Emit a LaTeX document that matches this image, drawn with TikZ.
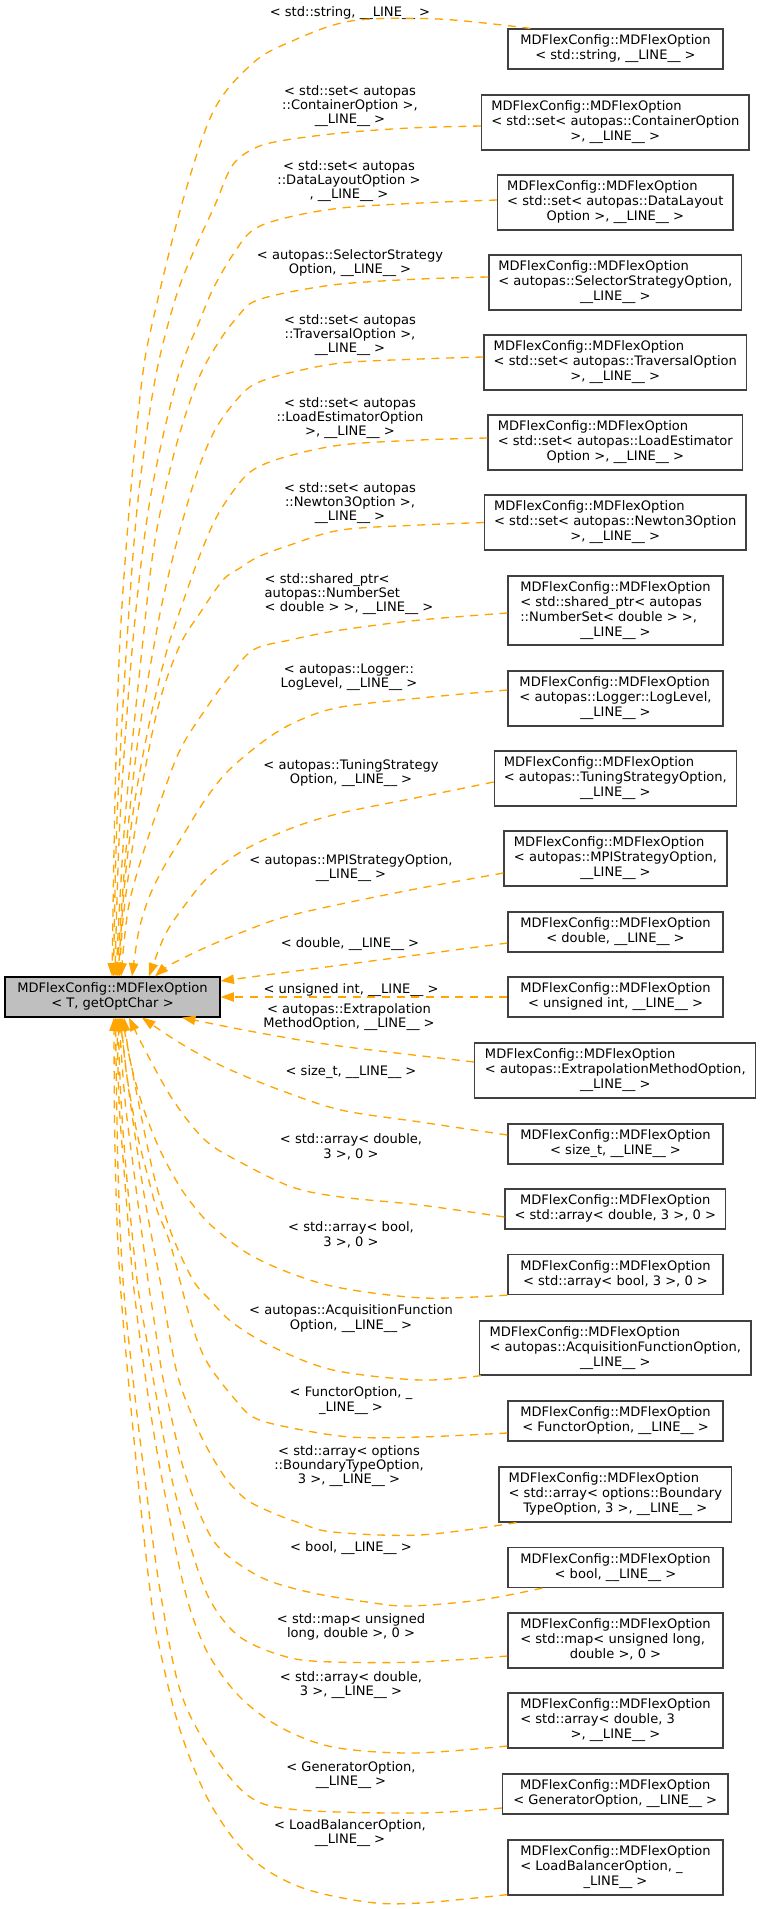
\documentclass[tikz,border=0pt]{standalone}
\usepackage{fontspec}
\setmainfont{DejaVu Sans}
\usetikzlibrary{arrows.meta,calc}
\definecolor{edgeorange}{HTML}{FFA500}
\definecolor{boxline}{HTML}{404040}
\definecolor{basefill}{HTML}{BFBFBF}
% text helpers
\newcommand{\MDF}{MDFlexConfig::MDFlexOption}
\newcommand{\LN}{\_\_LINE\_\_}
\newcommand{\onel}[1]{\begin{tabular}{@{}c@{}}#1\end{tabular}}
\newcommand{\twol}[2]{\begin{tabular}{@{}c@{}}#1\\#2\end{tabular}}
\newcommand{\threec}[3]{\begin{tabular}{@{}c@{}}#1\\#2\\#3\end{tabular}}
\newcommand{\threel}[3]{\begin{tabular}{@{}l@{}}#1\\#2\\\multicolumn{1}{@{}c@{}}{#3}\end{tabular}}
\newcommand{\fourl}[4]{\begin{tabular}{@{}l@{}}#1\\#2\\#3\\\multicolumn{1}{@{}c@{}}{#4}\end{tabular}}
\begin{document}
\begin{tikzpicture}[x=0.75pt,y=-0.75pt,
  cls/.style={draw=boxline, line width=0.9pt, fill=white, inner sep=0pt,
    font=\fontsize{9.8}{11.25}\selectfont},
  base/.style={cls, draw=black, fill=basefill},
  wh/.style 2 args={minimum width=#1*0.75pt, minimum height=#2*0.75pt},
  lbl/.style={inner sep=0pt, font=\fontsize{9.8}{10.7}\selectfont},
  inh/.style={draw=edgeorange, line width=1pt, dash pattern=on 6pt off 5pt,
    -{Triangle[length=10pt,width=7pt]}},
  sm/.style={smooth, tension=0.55}
]
\useasboundingbox (0,0) rectangle (760,1909);

% ---------- classes ----------
\node[base, wh={215}{40}] (main) at (112.5,997) {\twol{\MDF}{< T, getOptChar >}};

\node[cls, wh={215}{40}]   (b1)  at (615.5,49)    {\twol{\MDF}{< std::string, \LN{} >}};
\node[cls, wh={267.4}{55}] (b2)  at (615.3,122.5) {\threel{\MDF}{< std::set< autopas::ContainerOption}{>, \LN{} >}};
\node[cls, wh={235.4}{55}] (b3)  at (615.3,202.5) {\threel{\MDF}{< std::set< autopas::DataLayout}{Option >, \LN{} >}};
\node[cls, wh={252.7}{55}] (b4)  at (615.3,282.5) {\threel{\MDF}{< autopas::SelectorStrategyOption,}{\LN{} >}};
\node[cls, wh={262.6}{55}] (b5)  at (615.3,362.5) {\threel{\MDF}{< std::set< autopas::TraversalOption}{>, \LN{} >}};
\node[cls, wh={254.7}{55}] (b6)  at (615.3,442.5) {\threel{\MDF}{< std::set< autopas::LoadEstimator}{Option >, \LN{} >}};
\node[cls, wh={261.5}{55}] (b7)  at (615.3,522.5) {\threel{\MDF}{< std::set< autopas::Newton3Option}{>, \LN{} >}};
\node[cls, wh={215}{69}]   (b8)  at (615.5,610.5) {\fourl{\MDF}{< std::shared\_ptr< autopas}{::NumberSet< double > >,}{\LN{} >}};
\node[cls, wh={215}{55}]   (b9)  at (615.5,698.5) {\threel{\MDF}{< autopas::Logger::LogLevel,}{\LN{} >}};
\node[cls, wh={242}{55}]   (b10) at (615.3,778.5) {\threel{\MDF}{< autopas::TuningStrategyOption,}{\LN{} >}};
\node[cls, wh={223}{55}]   (b11) at (615.5,858.5) {\threel{\MDF}{< autopas::MPIStrategyOption,}{\LN{} >}};
\node[cls, wh={215}{40}]   (b12) at (615.5,932)   {\twol{\MDF}{< double, \LN{} >}};
\node[cls, wh={215}{40}]   (b13) at (615.5,997)   {\twol{\MDF}{< unsigned int, \LN{} >}};
\node[cls, wh={281}{55}]   (b14) at (615.3,1070.5){\threel{\MDF}{< autopas::ExtrapolationMethodOption,}{\LN{} >}};
\node[cls, wh={215}{40}]   (b15) at (615.5,1144)  {\twol{\MDF}{< size\_t, \LN{} >}};
\node[cls, wh={220.7}{40}] (b16) at (615.3,1209)  {\twol{\MDF}{< std::array< double, 3 >, 0 >}};
\node[cls, wh={215}{40}]   (b17) at (615.5,1274.5){\twol{\MDF}{< std::array< bool, 3 >, 0 >}};
\node[cls, wh={271.4}{54}] (b18) at (615.3,1348)  {\threel{\MDF}{< autopas::AcquisitionFunctionOption,}{\LN{} >}};
\node[cls, wh={215}{40}]   (b19) at (615.5,1421)  {\twol{\MDF}{< FunctorOption, \LN{} >}};
\node[cls, wh={232.6}{55}] (b20) at (615.3,1494.5){\threel{\MDF}{< std::array< options::Boundary}{TypeOption, 3 >, \LN{} >}};
\node[cls, wh={215}{40}]   (b21) at (615.5,1567.5){\twol{\MDF}{< bool, \LN{} >}};
\node[cls, wh={215}{55}]   (b22) at (615.5,1640.5){\threel{\MDF}{< std::map< unsigned long,}{double >, 0 >}};
\node[cls, wh={215}{55}]   (b23) at (615.5,1720.5){\threel{\MDF}{< std::array< double, 3}{>, \LN{} >}};
\node[cls, wh={225.6}{40}] (b24) at (615.2,1794)  {\twol{\MDF}{< GeneratorOption, \LN{} >}};
\node[cls, wh={215}{55}]   (b25) at (615.5,1867.5){\threel{\MDF}{< LoadBalancerOption, \_}{\_LINE\_\_ >}};

% ---------- edge labels ----------
\node[lbl] (l1)  at (350,13.5)   {\onel{< std::string, \LN{} >}};
\node[lbl] (l2)  at (350,106.5)  {\threec{< std::set< autopas}{::ContainerOption >,}{\LN{} >}};
\node[lbl] (l3)  at (349,181.5)  {\threec{< std::set< autopas}{::DataLayoutOption >}{, \LN{} >}};
\node[lbl] (l4)  at (350,263.5)  {\twol{< autopas::SelectorStrategy}{Option, \LN{} >}};
\node[lbl] (l5)  at (350,335.5)  {\threec{< std::set< autopas}{::TraversalOption >,}{\LN{} >}};
\node[lbl] (l6)  at (350,418.5)  {\threec{< std::set< autopas}{::LoadEstimatorOption}{>, \LN{} >}};
\node[lbl] (l7)  at (350,503.5)  {\threec{< std::set< autopas}{::Newton3Option >,}{\LN{} >}};
\node[lbl] (l8)  at (349,594.5)  {\threel{< std::shared\_ptr<}{autopas::NumberSet}{< double > >, \LN{} >}};
\node[lbl] (l9)  at (349,677.5)  {\twol{< autopas::Logger::}{LogLevel, \LN{} >}};
\node[lbl] (l10) at (351,774)    {\twol{< autopas::TuningStrategy}{Option, \LN{} >}};
\node[lbl] (l11) at (351,869)    {\twol{< autopas::MPIStrategyOption,}{\LN{} >}};
\node[lbl] (l12) at (350,944.5)  {\onel{< double, \LN{} >}};
\node[lbl] (l13) at (351,990.5)  {\onel{< unsigned int, \LN{} >}};
\node[lbl] (l14) at (349,1018)   {\twol{< autopas::Extrapolation}{MethodOption, \LN{} >}};
\node[lbl] (l15) at (351,1072.5) {\onel{< size\_t, \LN{} >}};
\node[lbl] (l16) at (351,1148)   {\twol{< std::array< double,}{3 >, 0 >}};
\node[lbl] (l17) at (351,1236)   {\twol{< std::array< bool,}{3 >, 0 >}};
\node[lbl] (l18) at (351,1319)   {\twol{< autopas::AcquisitionFunction}{Option, \LN{} >}};
\node[lbl] (l19) at (351,1401)   {\twol{< FunctorOption, \_}{\_LINE\_\_ >}};
\node[lbl] (l20) at (349,1466.5) {\threec{< std::array< options}{::BoundaryTypeOption,}{3 >, \LN{} >}};
\node[lbl] (l21) at (351,1549)   {\onel{< bool, \LN{} >}};
\node[lbl] (l22) at (351,1627.5) {\twol{< std::map< unsigned}{long, double >, 0 >}};
\node[lbl] (l23) at (351,1685.5) {\twol{< std::array< double,}{3 >, \LN{} >}};
\node[lbl] (l24) at (351,1775.5) {\twol{< GeneratorOption,}{\LN{} >}};
\node[lbl] (l25) at (350,1833.5) {\twol{< LoadBalancerOption,}{\LN{} >}};

% ---------- attachment points on the boxes ----------
\coordinate (s1)  at ($(b1.north west)+(23,0)$);
\coordinate (s2)  at ($(b2.west)+(0,3.5)$);
\coordinate (s3)  at ($(b3.west)+(0,-2.5)$);
\coordinate (s4)  at ($(b4.west)+(0,-5.5)$);
\coordinate (s5)  at ($(b5.west)+(0,-5.5)$);
\coordinate (s6)  at ($(b6.west)+(0,-4.5)$);
\coordinate (s7)  at (b7.west);
\coordinate (s8)  at ($(b8.west)+(0,2.5)$);
\coordinate (s9)  at ($(b9.west)+(0,-8.5)$);
\coordinate (s10) at ($(b10.west)+(0,3.5)$);
\coordinate (s11) at ($(b11.west)+(0,14.5)$);
\coordinate (s12) at ($(b12.west)+(0,11)$);
\coordinate (s14) at ($(b14.west)+(0,-8.5)$);
\coordinate (s15) at ($(b15.west)+(0,-9)$);
\coordinate (s16) at ($(b16.west)+(0,8)$);
\coordinate (s17) at (b17.south west);
\coordinate (s18) at ($(b18.south west)+(2,0)$);
\coordinate (s19) at ($(b19.west)+(0,12)$);
\coordinate (s20) at ($(b20.south west)+(18,0)$);
\coordinate (s21) at ($(b21.south west)+(35,0)$);
\coordinate (s22) at ($(b22.west)+(0,15.5)$);
\coordinate (s23) at ($(b23.west)+(0,25.5)$);
\coordinate (s24) at ($(b24.west)+(0,14)$);
\coordinate (s25) at ($(b25.south west)+(0,-1)$);

\coordinate (t1)  at ($(main.north)+(-0.5,0)$);
\coordinate (t2)  at ($(main.north)+(1,0)$);
\coordinate (t3)  at ($(main.north)+(2.5,0)$);
\coordinate (t4)  at ($(main.north)+(3.5,0)$);
\coordinate (t5)  at ($(main.north)+(4.5,0)$);
\coordinate (t6)  at ($(main.north)+(5.5,0)$);
\coordinate (t7)  at ($(main.north)+(7,0)$);
\coordinate (t8)  at ($(main.north)+(8.5,0)$);
\coordinate (t9)  at ($(main.north)+(19.5,0)$);
\coordinate (t10) at ($(main.north)+(36.5,0)$);
\coordinate (t11) at ($(main.north)+(42.5,0)$);
\coordinate (t12) at ($(main.east)+(0,-16)$);
\coordinate (t14) at ($(main.south)+(69.5,0)$);
\coordinate (t15) at ($(main.south)+(29.5,0)$);
\coordinate (t16) at ($(main.south)+(16.5,0)$);
\coordinate (t17) at ($(main.south)+(11.5,0)$);
\coordinate (t18) at ($(main.south)+(9.5,0)$);
\coordinate (t19) at ($(main.south)+(8.5,0)$);
\coordinate (t20) at ($(main.south)+(7.5,0)$);
\coordinate (t21) at ($(main.south)+(6.5,0)$);
\coordinate (t22) at ($(main.south)+(5.5,0)$);
\coordinate (t23) at ($(main.south)+(4.5,0)$);
\coordinate (t24) at ($(main.south)+(3,0)$);
\coordinate (t25) at ($(main.south)+(1.5,0)$);

% ---------- template instantiation edges (upper fan) ----------
\draw[inh] plot[sm] coordinates {(s1) (438,19) (351,21) (290,42) (253,63) (214,110) (183,200) (153,320) (142,380) (130,500) (120,640) (115,800) (t1)};
\draw[inh] plot[sm] coordinates {(s2) (410,128) (341,133) (280,141) (253,149) (232,166) (215,205) (193,253) (175,300) (155,380) (138,500) (127,640) (117,820) (t2)};
\draw[inh] plot[sm] coordinates {(s3) (420,203) (341,208) (285,218) (253,230) (234,253) (214,287) (200,320) (177,380) (150,500) (133,640) (120,820) (t3)};
\draw[inh] plot[sm] coordinates {(s4) (420,279) (341,284) (285,293) (253,302) (239,315) (220,340) (198,380) (175,450) (155,540) (143,640) (125,820) (t4)};
\draw[inh] plot[sm] coordinates {(s5) (420,359) (341,363) (285,374) (253,385) (234,403) (215,430) (198,470) (180,530) (165,590) (155,640) (138,740) (126,850) (t5)};
\draw[inh] plot[sm] coordinates {(s6) (420,440) (341,445) (285,457) (253,470) (234,490) (215,520) (198,560) (182,605) (167,650) (150,720) (135,800) (125,880) (t6)};
\draw[inh] plot[sm] coordinates {(s7) (420,525) (341,530) (290,545) (258,557) (240,568) (223,580) (200,613) (180,645) (160,700) (145,770) (132,850) (123,920) (t7)};
\draw[inh] plot[sm] coordinates {(s8) (420,620) (341,630) (290,640) (253,650) (229,677) (205,710) (180,750) (161,800) (141,860) (128,910) (t8)};
\draw[inh] plot[sm] coordinates {(s9) (420,698) (341,707) (300,720) (268,738) (229,770) (205,800) (185,832) (165,865) (150,895) (139,930) (t9)};
\draw[inh] plot[sm] coordinates {(s10) (420,797) (341,813) (292,828) (244,850) (210,875) (185,905) (165,935) (t10)};
\draw[inh] plot[sm] coordinates {(s11) (400,892) (292,915) (240,933) (200,950) (170,965) (t11)};

% ---------- straight-in edges ----------
\draw[inh] (s12) -- (t12);
\draw[inh] (b13.west) -- (main.east);
\draw[inh] plot[sm] coordinates {(s14) (371,1050) (312,1042) (244,1030) (t14)};

% ---------- lower fan ----------
\draw[inh] plot[sm] coordinates {(s15) (420,1122) (341,1110) (280,1090) (224,1067) (180,1043) (t15)};
\draw[inh] plot[sm] coordinates {(s16) (420,1205) (341,1197) (292,1187) (240,1162) (205,1140) (173,1100) (145,1050) (t16)};
\draw[inh] plot[sm] coordinates {(s17) (424,1298) (341,1288) (290,1273) (247,1253) (213,1227) (197,1210) (180,1187) (160,1150) (143,1107) (130,1060) (t17)};
\draw[inh] plot[sm] coordinates {(s18) (420,1380) (333,1370) (273,1347) (233,1323) (210,1300) (193,1280) (172,1235) (155,1180) (140,1110) (t18)};
\draw[inh] plot[sm] coordinates {(s19) (420,1437) (350,1437) (287,1427) (253,1417) (233,1397) (210,1367) (197,1340) (185,1300) (170,1243) (157,1210) (147,1173) (137,1133) (126,1070) (t19)};
\draw[inh] plot[sm] coordinates {(s20) (420,1535) (333,1532) (300,1523) (273,1513) (247,1500) (227,1480) (210,1453) (197,1427) (177,1373) (160,1280) (145,1200) (130,1100) (t20)};
\draw[inh] plot[sm] coordinates {(s21) (480,1600) (409,1606) (367,1602) (313,1593) (267,1580) (233,1560) (213,1540) (197,1507) (183,1467) (172,1420) (162,1373) (153,1313) (148,1280) (135,1180) (125,1100) (t21)};
\draw[inh] plot[sm] coordinates {(s22) (420,1662) (333,1662) (287,1657) (240,1637) (210,1600) (190,1545) (172,1480) (157,1400) (145,1330) (137,1280) (127,1180) (121,1100) (t22)};
\draw[inh] plot[sm] coordinates {(s23) (413,1753) (333,1747) (280,1727) (240,1697) (210,1657) (192,1615) (180,1570) (168,1510) (155,1440) (143,1360) (133,1280) (124,1170) (119,1100) (t23)};
\draw[inh] plot[sm] coordinates {(s24) (420,1813) (300,1810) (250,1797) (210,1750) (180,1690) (160,1590) (145,1480) (132,1370) (123,1280) (118,1170) (t24)};
\draw[inh] plot[sm] coordinates {(s25) (420,1903) (367,1902) (300,1887) (250,1857) (210,1803) (180,1730) (160,1650) (150,1590) (135,1450) (120,1280) (115,1150) (t25)};
\end{tikzpicture}
\end{document}
